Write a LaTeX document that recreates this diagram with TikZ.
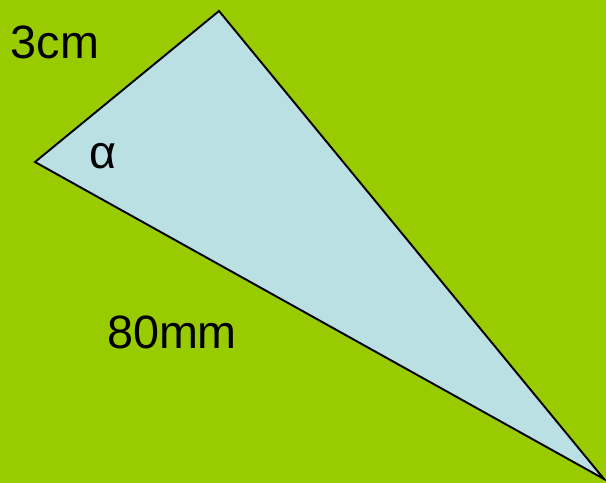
\documentclass[tikz,border=0pt]{standalone}
\usepackage{fontspec}
\setmainfont{Liberation Sans}
\usepackage{tikz}
\usetikzlibrary{positioning}

\definecolor{bggreen}{HTML}{99CC00}
\definecolor{trifill}{HTML}{BBE0E3}

\begin{document}
\begin{tikzpicture}[x=0.02cm, y=-0.02cm,
  tri/.style={draw=black, fill=trifill, line width=1.1pt, line join=miter},
  lbl/.style={font=\fontsize{26.6}{30}\selectfont, inner sep=0pt},
]

%% background
\fill[bggreen] (0,0) rectangle (606,483);
\useasboundingbox (0,0) rectangle (606,483);

%% triangle corners
\coordinate (A) at (35,162);
\coordinate (B) at (219,11);
\coordinate (C) at (604,479);
\draw[tri] (A) -- (B) -- (C) -- cycle;

%% labels
\node[lbl] (side) at (55,42) {3cm};
\node[lbl] (alpha) at (103,156) {α};
\node[lbl] (base) at (172,332) {80mm};

\end{tikzpicture}
\end{document}
